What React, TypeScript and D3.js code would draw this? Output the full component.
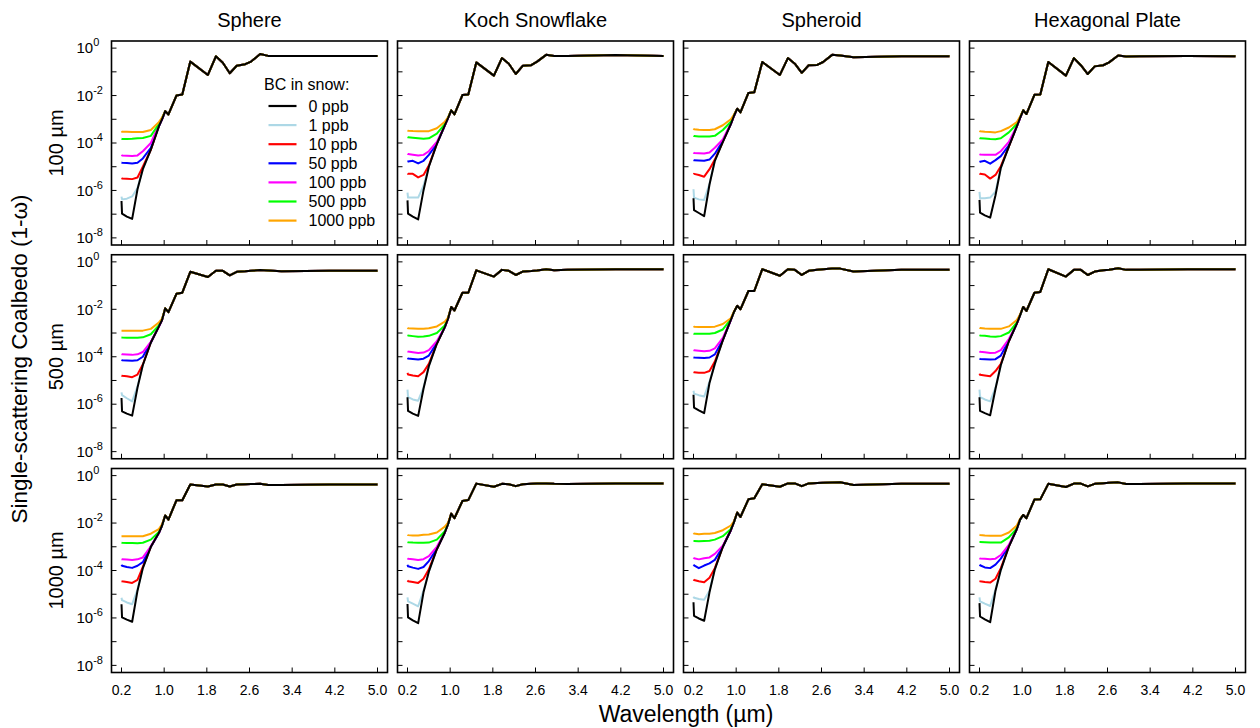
import React from 'react';
import * as d3 from 'd3';

// ---------- categories / labels ----------
const SHAPES = ['Sphere', 'Koch Snowflake', 'Spheroid', 'Hexagonal Plate'];
const SIZES = ['100 µm', '500 µm', '1000 µm'];
const BC_LEVELS = ['0 ppb', '1 ppb', '10 ppb', '50 ppb', '100 ppb', '500 ppb', '1000 ppb'];
const BC_COLORS = ['#000000', '#add8e6', '#ff0000', '#0000ff', '#ff00ff', '#00ff00', '#ffa500'];
const X_TICKS = [0.2, 1.0, 1.8, 2.6, 3.4, 4.2, 5.0];
const Y_TICK_EXPONENTS = [0, -1, -2, -3, -4, -5, -6, -7, -8];
const Y_LABEL_EXPONENTS = [0, -2, -4, -6, -8];

// ---------- wavelength grid (µm) ----------
const WAVELENGTH = [0.2, 0.21, 0.3, 0.4, 0.5, 0.6, 0.75, 0.9, 0.96, 1.02, 1.08, 1.23, 1.34, 1.49, 1.82, 1.97, 2.1, 2.23, 2.36, 2.52, 2.63, 2.8, 2.95, 3.2, 4.1, 5.0];
// BC curves are listed on the first 9 wavelengths; beyond them they coincide with pure snow
const BC_POINTS = 9;

// ---------- 100 µm ----------
const PURE_SPHERE_100 = [3.6e-7, 1.05e-7, 7.9e-8, 6.3e-8, 1.12e-6, 7.9e-6, 5.2e-5, 5.0e-4, 1.0e-3, 2.2e-3, 1.6e-3, 1.0e-2, 1.1e-2, 0.27, 0.074, 0.45, 0.24, 0.087, 0.18, 0.21, 0.27, 0.56, 0.47, 0.46, 0.47, 0.47];
const BC_SPHERE_100 = [
  [5.5e-7, 4.2e-7, 4.5e-7, 5.6e-7, 1.26e-6, 7.9e-6, 5.2e-5, 5.0e-4, 1.0e-3],
  [3.3e-6, 3.2e-6, 3.1e-6, 3.0e-6, 3.5e-6, 1.0e-5, 5.2e-5, 5.0e-4, 1.0e-3],
  [1.5e-5, 1.48e-5, 1.45e-5, 1.38e-5, 1.48e-5, 2.24e-5, 6.3e-5, 5.0e-4, 1.0e-3],
  [3.16e-5, 3.0e-5, 2.9e-5, 2.8e-5, 3.0e-5, 4.5e-5, 1.0e-4, 5.6e-4, 1.05e-3],
  [1.5e-4, 1.48e-4, 1.48e-4, 1.5e-4, 1.58e-4, 1.62e-4, 2.0e-4, 6.3e-4, 1.12e-3],
  [3.16e-4, 3.0e-4, 2.95e-4, 2.9e-4, 2.9e-4, 2.9e-4, 3.55e-4, 7.6e-4, 1.17e-3],
];
const PURE_KOCH_100 = [3.8e-7, 1.05e-7, 7.9e-8, 6.0e-8, 1.0e-6, 1.0e-5, 9.1e-5, 5.5e-4, 1.12e-3, 2.4e-3, 1.6e-3, 1.05e-2, 1.1e-2, 0.25, 0.069, 0.38, 0.22, 0.081, 0.18, 0.19, 0.27, 0.52, 0.47, 0.46, 0.51, 0.47];
const BC_KOCH_100 = [
  [8.1e-7, 5.0e-7, 5.0e-7, 5.0e-7, 1.58e-6, 1.0e-5, 9.1e-5, 5.5e-4, 1.12e-3],
  [5.2e-6, 5.0e-6, 5.0e-6, 3.55e-6, 4.5e-6, 1.12e-5, 9.1e-5, 5.5e-4, 1.12e-3],
  [1.62e-5, 1.66e-5, 1.78e-5, 1.38e-5, 1.78e-5, 3.16e-5, 9.1e-5, 5.5e-4, 1.12e-3],
  [3.5e-5, 3.4e-5, 3.2e-5, 2.95e-5, 3.16e-5, 4.5e-5, 1.12e-4, 5.5e-4, 1.12e-3],
  [1.78e-4, 1.74e-4, 1.66e-4, 1.58e-4, 1.5e-4, 1.58e-4, 2.5e-4, 6.3e-4, 1.17e-3],
  [3.4e-4, 3.3e-4, 3.2e-4, 3.16e-4, 3.1e-4, 3.16e-4, 4.2e-4, 7.9e-4, 1.2e-3],
];
const PURE_SPHEROID_100 = [4.7e-7, 1.48e-7, 1.12e-7, 8.3e-8, 1.78e-6, 1.78e-5, 1.12e-4, 6.3e-4, 1.41e-3, 2.8e-3, 1.95e-3, 1.29e-2, 1.38e-2, 0.26, 0.074, 0.38, 0.22, 0.091, 0.19, 0.195, 0.26, 0.52, 0.49, 0.41, 0.45, 0.45];
const BC_SPHEROID_100 = [
  [1.12e-6, 5.0e-7, 4.2e-7, 4.0e-7, 1.9e-6, 1.78e-5, 1.12e-4, 6.3e-4, 1.41e-3],
  [4.8e-6, 5.0e-6, 4.5e-6, 3.8e-6, 7.9e-6, 2.0e-5, 1.12e-4, 6.3e-4, 1.41e-3],
  [1.9e-5, 1.86e-5, 1.82e-5, 1.78e-5, 2.0e-5, 3.55e-5, 1.2e-4, 6.3e-4, 1.41e-3],
  [4.0e-5, 3.8e-5, 3.7e-5, 3.6e-5, 4.0e-5, 6.3e-5, 1.41e-4, 6.6e-4, 1.41e-3],
  [2.0e-4, 1.95e-4, 1.9e-4, 1.9e-4, 1.9e-4, 2.0e-4, 3.55e-4, 7.9e-4, 1.5e-3],
  [4.1e-4, 3.8e-4, 3.6e-4, 3.5e-4, 3.55e-4, 3.8e-4, 5.6e-4, 1.0e-3, 1.58e-3],
];
const PURE_HEX_100 = [4.0e-7, 1.15e-7, 8.9e-8, 7.1e-8, 6.3e-7, 8.9e-6, 7.1e-5, 5.0e-4, 1.12e-3, 2.4e-3, 1.66e-3, 1.07e-2, 1.12e-2, 0.26, 0.069, 0.38, 0.19, 0.081, 0.17, 0.19, 0.25, 0.49, 0.44, 0.45, 0.46, 0.45];
const BC_HEX_100 = [
  [8.7e-7, 4.7e-7, 4.7e-7, 5.0e-7, 8.9e-7, 8.9e-6, 7.1e-5, 5.0e-4, 1.12e-3],
  [5.2e-6, 5.0e-6, 4.7e-6, 3.16e-6, 4.5e-6, 1.05e-5, 7.1e-5, 5.0e-4, 1.12e-3],
  [1.58e-5, 1.62e-5, 1.78e-5, 1.35e-5, 1.9e-5, 2.8e-5, 7.9e-5, 5.0e-4, 1.12e-3],
  [3.4e-5, 3.3e-5, 3.2e-5, 3.16e-5, 3.16e-5, 4.5e-5, 1.12e-4, 5.2e-4, 1.12e-3],
  [1.62e-4, 1.58e-4, 1.55e-4, 1.48e-4, 1.45e-4, 1.58e-4, 2.8e-4, 6.3e-4, 1.2e-3],
  [3.3e-4, 3.16e-4, 3.0e-4, 2.9e-4, 2.8e-4, 3.16e-4, 4.5e-4, 7.6e-4, 1.26e-3],
];

// ---------- 500 µm ----------
const PURE_SPHERE_500 = [1.82e-6, 5.0e-7, 4.0e-7, 3.3e-7, 5.0e-6, 4.5e-5, 4.0e-4, 1.86e-3, 3.55e-3, 1.1e-2, 7.6e-3, 0.045, 0.05, 0.38, 0.23, 0.42, 0.42, 0.27, 0.38, 0.4, 0.42, 0.45, 0.43, 0.4, 0.42, 0.42];
const BC_SPHERE_500 = [
  [3.16e-6, 2.4e-6, 1.78e-6, 1.32e-6, 5.6e-6, 4.5e-5, 4.0e-4, 1.86e-3, 3.55e-3],
  [1.62e-5, 1.58e-5, 1.5e-5, 1.38e-5, 1.78e-5, 4.7e-5, 4.0e-4, 1.86e-3, 3.55e-3],
  [7.4e-5, 7.2e-5, 7.0e-5, 6.8e-5, 7.1e-5, 1.0e-4, 4.0e-4, 1.86e-3, 3.55e-3],
  [1.29e-4, 1.26e-4, 1.23e-4, 1.2e-4, 1.26e-4, 1.58e-4, 4.2e-4, 1.86e-3, 3.55e-3],
  [6.6e-4, 6.5e-4, 6.4e-4, 6.3e-4, 6.3e-4, 6.6e-4, 8.9e-4, 2.1e-3, 3.7e-3],
  [1.26e-3, 1.26e-3, 1.26e-3, 1.26e-3, 1.26e-3, 1.26e-3, 1.5e-3, 2.8e-3, 4.0e-3],
];
const PURE_KOCH_500 = [1.95e-6, 5.2e-7, 4.0e-7, 3.2e-7, 4.5e-6, 4.0e-5, 3.55e-4, 1.78e-3, 4.0e-3, 1.26e-2, 8.9e-3, 0.05, 0.05, 0.44, 0.24, 0.46, 0.42, 0.28, 0.39, 0.41, 0.43, 0.49, 0.44, 0.47, 0.49, 0.49];
const BC_KOCH_500 = [
  [4.1e-6, 2.0e-6, 1.58e-6, 1.41e-6, 5.0e-6, 4.0e-5, 3.55e-4, 1.78e-3, 4.0e-3],
  [2.1e-5, 1.78e-5, 1.62e-5, 1.5e-5, 2.24e-5, 5.0e-5, 3.55e-4, 1.78e-3, 4.0e-3],
  [8.9e-5, 8.5e-5, 8.1e-5, 7.6e-5, 8.3e-5, 1.12e-4, 3.8e-4, 1.78e-3, 4.0e-3],
  [1.7e-4, 1.66e-4, 1.55e-4, 1.45e-4, 1.5e-4, 1.9e-4, 4.5e-4, 1.78e-3, 4.0e-3],
  [8.1e-4, 7.9e-4, 7.4e-4, 6.9e-4, 7.1e-4, 7.6e-4, 1.0e-3, 2.1e-3, 4.2e-3],
  [1.66e-3, 1.58e-3, 1.55e-3, 1.5e-3, 1.5e-3, 1.58e-3, 1.9e-3, 3.0e-3, 4.5e-3],
];
const PURE_SPHEROID_500 = [2.5e-6, 7.2e-7, 5.5e-7, 4.2e-7, 7.9e-6, 5.0e-5, 5.0e-4, 3.55e-3, 7.9e-3, 1.41e-2, 1.0e-2, 0.059, 0.059, 0.49, 0.26, 0.49, 0.46, 0.28, 0.42, 0.47, 0.49, 0.52, 0.52, 0.39, 0.46, 0.46];
const BC_SPHEROID_500 = [
  [3.7e-6, 2.8e-6, 2.4e-6, 2.1e-6, 8.9e-6, 5.0e-5, 5.0e-4, 3.55e-3, 7.9e-3],
  [2.24e-5, 2.2e-5, 2.1e-5, 2.1e-5, 2.5e-5, 6.3e-5, 5.0e-4, 3.55e-3, 7.9e-3],
  [9.5e-5, 9.3e-5, 9.1e-5, 8.9e-5, 9.3e-5, 1.26e-4, 5.2e-4, 3.55e-3, 7.9e-3],
  [1.9e-4, 1.86e-4, 1.78e-4, 1.7e-4, 1.78e-4, 2.24e-4, 6.3e-4, 3.55e-3, 7.9e-3],
  [9.5e-4, 9.3e-4, 9.3e-4, 9.3e-4, 9.3e-4, 1.0e-3, 1.41e-3, 3.8e-3, 7.9e-3],
  [1.95e-3, 1.86e-3, 1.8e-3, 1.78e-3, 1.78e-3, 1.86e-3, 2.4e-3, 4.2e-3, 8.3e-3],
];
const PURE_HEX_500 = [1.95e-6, 5.2e-7, 4.2e-7, 3.4e-7, 4.5e-6, 4.5e-5, 4.5e-4, 2.5e-3, 5.6e-3, 1.26e-2, 8.5e-3, 0.05, 0.054, 0.49, 0.24, 0.46, 0.46, 0.28, 0.39, 0.44, 0.47, 0.54, 0.46, 0.47, 0.49, 0.49];
const BC_HEX_500 = [
  [4.1e-6, 2.0e-6, 1.58e-6, 1.32e-6, 5.0e-6, 4.5e-5, 4.5e-4, 2.5e-3, 5.6e-3],
  [1.95e-5, 1.74e-5, 1.62e-5, 1.5e-5, 2.5e-5, 5.0e-5, 4.5e-4, 2.5e-3, 5.6e-3],
  [8.3e-5, 8.1e-5, 7.9e-5, 7.6e-5, 7.9e-5, 1.12e-4, 4.7e-4, 2.5e-3, 5.6e-3],
  [1.7e-4, 1.62e-4, 1.55e-4, 1.45e-4, 1.48e-4, 1.9e-4, 5.6e-4, 2.5e-3, 5.6e-3],
  [8.1e-4, 7.9e-4, 7.6e-4, 7.1e-4, 6.9e-4, 7.4e-4, 1.05e-3, 2.8e-3, 5.6e-3],
  [1.66e-3, 1.62e-3, 1.55e-3, 1.5e-3, 1.5e-3, 1.5e-3, 1.9e-3, 3.55e-3, 6.0e-3],
];

// ---------- 1000 µm ----------
const PURE_SPHERE_1000 = [3.8e-6, 1.05e-6, 8.5e-7, 6.9e-7, 1.41e-5, 1.26e-4, 1.0e-3, 3.8e-3, 7.9e-3, 0.021, 0.014, 0.091, 0.091, 0.42, 0.35, 0.42, 0.42, 0.35, 0.42, 0.43, 0.44, 0.45, 0.4, 0.4, 0.42, 0.42];
const BC_SPHERE_1000 = [
  [7.1e-6, 5.6e-6, 4.5e-6, 3.8e-6, 1.58e-5, 1.26e-4, 1.0e-3, 3.8e-3, 7.9e-3],
  [3.55e-5, 3.5e-5, 3.3e-5, 3.0e-5, 4.0e-5, 1.41e-4, 1.0e-3, 3.8e-3, 7.9e-3],
  [1.74e-4, 1.58e-4, 1.41e-4, 1.29e-4, 1.58e-4, 2.24e-4, 1.0e-3, 3.8e-3, 7.9e-3],
  [3.0e-4, 2.95e-4, 2.9e-4, 2.8e-4, 2.95e-4, 3.55e-4, 1.05e-3, 3.8e-3, 7.9e-3],
  [1.5e-3, 1.48e-3, 1.45e-3, 1.45e-3, 1.41e-3, 1.48e-3, 2.0e-3, 4.2e-3, 7.9e-3],
  [2.8e-3, 2.8e-3, 2.8e-3, 2.8e-3, 2.8e-3, 2.8e-3, 3.55e-3, 5.6e-3, 8.9e-3],
];
const PURE_KOCH_1000 = [3.9e-6, 1.05e-6, 7.9e-7, 6.0e-7, 1.2e-5, 8.9e-5, 7.9e-4, 4.0e-3, 8.9e-3, 0.025, 0.016, 0.085, 0.093, 0.46, 0.34, 0.45, 0.43, 0.36, 0.43, 0.45, 0.46, 0.47, 0.45, 0.44, 0.47, 0.47];
const BC_KOCH_1000 = [
  [7.4e-6, 5.0e-6, 4.0e-6, 3.1e-6, 1.41e-5, 8.9e-5, 7.9e-4, 4.0e-3, 8.9e-3],
  [3.8e-5, 3.55e-5, 3.3e-5, 3.0e-5, 4.5e-5, 1.12e-4, 7.9e-4, 4.0e-3, 8.9e-3],
  [1.74e-4, 1.5e-4, 1.32e-4, 1.17e-4, 1.41e-4, 2.5e-4, 8.3e-4, 4.0e-3, 8.9e-3],
  [3.3e-4, 3.16e-4, 3.0e-4, 2.8e-4, 3.0e-4, 4.0e-4, 1.0e-3, 4.0e-3, 8.9e-3],
  [1.58e-3, 1.55e-3, 1.5e-3, 1.48e-3, 1.48e-3, 1.5e-3, 2.0e-3, 4.5e-3, 8.9e-3],
  [3.2e-3, 3.1e-3, 3.0e-3, 3.0e-3, 3.2e-3, 3.3e-3, 4.0e-3, 7.1e-3, 1.05e-2],
];
const PURE_SPHEROID_1000 = [4.6e-6, 1.23e-6, 9.5e-7, 7.6e-7, 1.2e-5, 1.12e-4, 1.0e-3, 5.0e-3, 1.12e-2, 0.028, 0.018, 0.1, 0.11, 0.43, 0.34, 0.47, 0.47, 0.36, 0.47, 0.49, 0.5, 0.51, 0.52, 0.4, 0.45, 0.45];
const BC_SPHEROID_1000 = [
  [7.9e-6, 7.1e-6, 6.3e-6, 5.9e-6, 1.41e-5, 1.12e-4, 1.0e-3, 5.0e-3, 1.12e-2],
  [4.2e-5, 4.0e-5, 3.55e-5, 3.2e-5, 5.0e-5, 1.26e-4, 1.0e-3, 5.0e-3, 1.12e-2],
  [1.78e-4, 1.66e-4, 1.26e-4, 1.62e-4, 2.0e-4, 2.8e-4, 1.0e-3, 5.0e-3, 1.12e-2],
  [3.5e-4, 3.3e-4, 2.95e-4, 3.3e-4, 3.55e-4, 5.0e-4, 1.12e-3, 5.0e-3, 1.12e-2],
  [1.74e-3, 1.74e-3, 1.7e-3, 1.74e-3, 1.78e-3, 2.0e-3, 2.8e-3, 5.6e-3, 1.12e-2],
  [3.8e-3, 3.6e-3, 3.4e-3, 3.5e-3, 3.55e-3, 3.8e-3, 5.0e-3, 7.9e-3, 1.2e-2],
];
const PURE_HEX_1000 = [4.2e-6, 1.15e-6, 8.7e-7, 6.6e-7, 1.41e-5, 1.07e-4, 1.02e-3, 5.6e-3, 0.014, 0.022, 0.016, 0.098, 0.1, 0.45, 0.33, 0.46, 0.46, 0.35, 0.45, 0.48, 0.5, 0.52, 0.44, 0.44, 0.46, 0.46];
const BC_HEX_1000 = [
  [7.4e-6, 5.0e-6, 4.0e-6, 3.2e-6, 1.58e-5, 1.07e-4, 1.02e-3, 5.6e-3, 0.014],
  [3.6e-5, 3.55e-5, 3.3e-5, 3.1e-5, 4.5e-5, 1.26e-4, 1.02e-3, 5.6e-3, 0.014],
  [1.74e-4, 1.66e-4, 1.35e-4, 1.26e-4, 1.78e-4, 3.16e-4, 1.07e-3, 5.6e-3, 0.014],
  [3.3e-4, 3.2e-4, 3.16e-4, 3.0e-4, 3.16e-4, 4.5e-4, 1.2e-3, 5.6e-3, 0.014],
  [1.58e-3, 1.58e-3, 1.55e-3, 1.5e-3, 1.5e-3, 1.5e-3, 2.5e-3, 6.0e-3, 0.014],
  [3.2e-3, 3.16e-3, 3.0e-3, 2.9e-3, 2.9e-3, 2.9e-3, 4.0e-3, 7.9e-3, 0.015],
];

const PANELS = [
  [
    { pure: PURE_SPHERE_100, bc: BC_SPHERE_100 },
    { pure: PURE_KOCH_100, bc: BC_KOCH_100 },
    { pure: PURE_SPHEROID_100, bc: BC_SPHEROID_100 },
    { pure: PURE_HEX_100, bc: BC_HEX_100 },
  ],
  [
    { pure: PURE_SPHERE_500, bc: BC_SPHERE_500 },
    { pure: PURE_KOCH_500, bc: BC_KOCH_500 },
    { pure: PURE_SPHEROID_500, bc: BC_SPHEROID_500 },
    { pure: PURE_HEX_500, bc: BC_HEX_500 },
  ],
  [
    { pure: PURE_SPHERE_1000, bc: BC_SPHERE_1000 },
    { pure: PURE_KOCH_1000, bc: BC_KOCH_1000 },
    { pure: PURE_SPHEROID_1000, bc: BC_SPHEROID_1000 },
    { pure: PURE_HEX_1000, bc: BC_HEX_1000 },
  ],
];

// ---------- layout ----------
const LEFT0 = 111.5;
const TOP0 = 41;
const COL_STEP = 286;
const ROW_STEP = 213.75;
const PW = 276;
const PH = 204;
const FONT = "'Liberation Sans', Arial, Helvetica, sans-serif";

function seriesValues(panel: { pure: number[]; bc: number[][] }, k: number): number[] {
  if (k === 0) return panel.pure;
  return panel.bc[k - 1].concat(panel.pure.slice(BC_POINTS));
}

function Panel({ row, col }: { row: number; col: number }) {
  const left = LEFT0 + col * COL_STEP;
  const top = TOP0 + row * ROW_STEP;
  const x = d3.scaleLinear().domain([0.2, 5.0]).range([left + 10, left + PW - 10]);
  const y = d3.scaleLog().domain([Math.pow(10, -8.3), Math.pow(10, 0.3)]).range([top + PH, top]);
  const line = d3
    .line<[number, number]>()
    .x((d) => x(d[0]))
    .y((d) => y(d[1]));
  const panel = PANELS[row][col];
  const order = [1, 2, 3, 4, 5, 6, 0];

  return (
    <g>
      {order.map((k) => {
        const vals = seriesValues(panel, k);
        const pts = WAVELENGTH.map((w, i) => [w, vals[i]] as [number, number]);
        return (
          <path
            key={k}
            d={line(pts) || ''}
            fill="none"
            stroke={BC_COLORS[k]}
            strokeWidth={2}
            strokeLinejoin="round"
          />
        );
      })}
      {Y_TICK_EXPONENTS.map((e) => (
        <line key={'yt' + e} x1={left} x2={left + 5} y1={y(Math.pow(10, e))} y2={y(Math.pow(10, e))} stroke="#000" strokeWidth={1} />
      ))}
      {X_TICKS.map((t) => (
        <line key={'xt' + t} x1={x(t)} x2={x(t)} y1={top + PH} y2={top + PH - 5} stroke="#000" strokeWidth={1} />
      ))}
      <rect x={left} y={top} width={PW} height={PH} fill="none" stroke="#000" strokeWidth={1.6} />
      {col === 0 &&
        Y_LABEL_EXPONENTS.map((e) => (
          <text key={'yl' + e} x={left - 35} y={y(Math.pow(10, e)) + 5.3} fontSize={15} fill="#000">
            10
            <tspan dy={-7} fontSize={11}>
              {e === 0 ? '0' : '-' + Math.abs(e)}
            </tspan>
          </text>
        ))}
      {row === 2 &&
        X_TICKS.map((t) => (
          <text key={'xl' + t} x={x(t)} y={top + PH + 22.5} fontSize={14} textAnchor="middle" fill="#000">
            {t.toFixed(1)}
          </text>
        ))}
      {row === 0 && (
        <text x={left + PW / 2} y={27} fontSize={20} textAnchor="middle" fill="#000">
          {SHAPES[col]}
        </text>
      )}
      {col === 0 && (
        <text
          transform={`translate(56, ${top + PH / 2}) rotate(-90)`}
          fontSize={20}
          textAnchor="middle"
          dominantBaseline="central"
          fill="#000"
        >
          {SIZES[row]}
        </text>
      )}
      {row === 0 && col === 0 && (
        <g>
          <text x={left + 152.5} y={top + 49} fontSize={16} fill="#000">
            BC in snow:
          </text>
          {BC_LEVELS.map((lab, i) => {
            const cy = top + 65 + i * 19.1;
            return (
              <g key={lab}>
                <line x1={left + 157} x2={left + 185} y1={cy} y2={cy} stroke={BC_COLORS[i]} strokeWidth={2.2} />
                <text x={left + 197} y={cy + 5.6} fontSize={16} fill="#000">
                  {lab}
                </text>
              </g>
            );
          })}
        </g>
      )}
    </g>
  );
}

export default function App() {
  const cells: React.ReactNode[] = [];
  for (let r = 0; r < SIZES.length; r++) {
    for (let c = 0; c < SHAPES.length; c++) {
      cells.push(<Panel key={r + '-' + c} row={r} col={c} />);
    }
  }
  return (
    <svg
      width={1260}
      height={728}
      style={{ position: 'absolute', left: 0, top: 0, background: '#fff' }}
      fontFamily={FONT}
    >
      <rect x={0} y={0} width={1260} height={728} fill="#fff" />
      {cells}
      <text
        transform="translate(19, 359) rotate(-90)"
        fontSize={22.5}
        textAnchor="middle"
        dominantBaseline="central"
        fill="#000"
      >
        Single-scattering Coalbedo (1-ω)
      </text>
      <text x={686} y={722} fontSize={23} textAnchor="middle" fill="#000">
        Wavelength (µm)
      </text>
    </svg>
  );
}
